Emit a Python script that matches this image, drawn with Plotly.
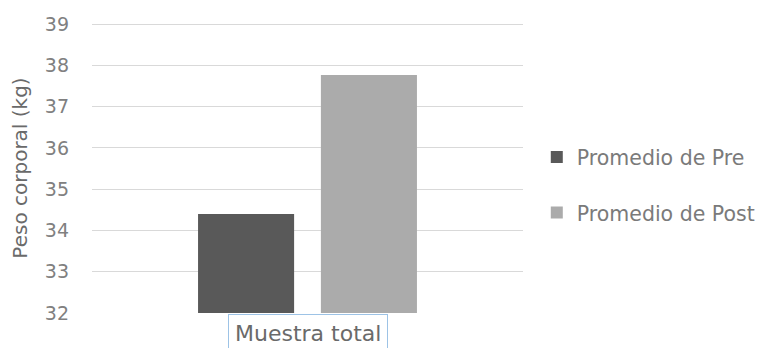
import plotly.graph_objects as go

categories = ["Muestra total"]
series_names = ["Promedio de Pre", "Promedio de Post"]
pre_values = [34.40]
post_values = [37.77]
y_ticks = [32, 33, 34, 35, 36, 37, 38, 39]

colors = ["#595959", "#ababab"]
font_family = "DejaVu Sans, sans-serif"

fig = go.Figure()
for name, vals, col in zip(series_names, [pre_values, post_values], colors):
    fig.add_trace(go.Bar(
        x=categories, y=[v - 32 for v in vals], base=32, name=name,
        marker=dict(color=col, line=dict(width=0)),
        legendgroup=name,
    ))

fig.update_layout(
    width=764, height=348,
    margin=dict(l=84, r=242, t=15, b=43),
    paper_bgcolor="white", plot_bgcolor="white",
    barmode="group", bargap=0.43, bargroupgap=0.218,
    font=dict(family=font_family, color="#7a7a7a", size=17),
    showlegend=True,
    legend=dict(
        x=1.032, y=0.441, xanchor="left", yanchor="middle",
        font=dict(size=20.5, color="#7a7a7a"),
        tracegroupgap=26, itemwidth=30,
    ),
    xaxis=dict(showticklabels=False, showline=False, ticks="", showgrid=False,
               automargin=False),
    yaxis=dict(
        range=[32, 39.03], tickvals=y_ticks, ticktext=[str(t) for t in y_ticks],
        showgrid=True, gridcolor="#d9d9d9", gridwidth=1, zeroline=False,
        showline=False, ticks="", ticklabelstandoff=22, automargin=False,
        tickfont=dict(size=19, color="#808080"),
        title=dict(text="Peso corporal (kg)", font=dict(size=20, color="#6a6a6a"), standoff=12),
    ),
)

fig.add_annotation(
    x=categories[0], xref="x", y=0, yref="paper", yanchor="top", yshift=-1,
    text=categories[0], showarrow=False,
    font=dict(size=22, color="#6a6a6a", family=font_family),
    bordercolor="#9dc3e6", borderwidth=1, borderpad=6, bgcolor="white",
)

fig.write_html("out.html")
